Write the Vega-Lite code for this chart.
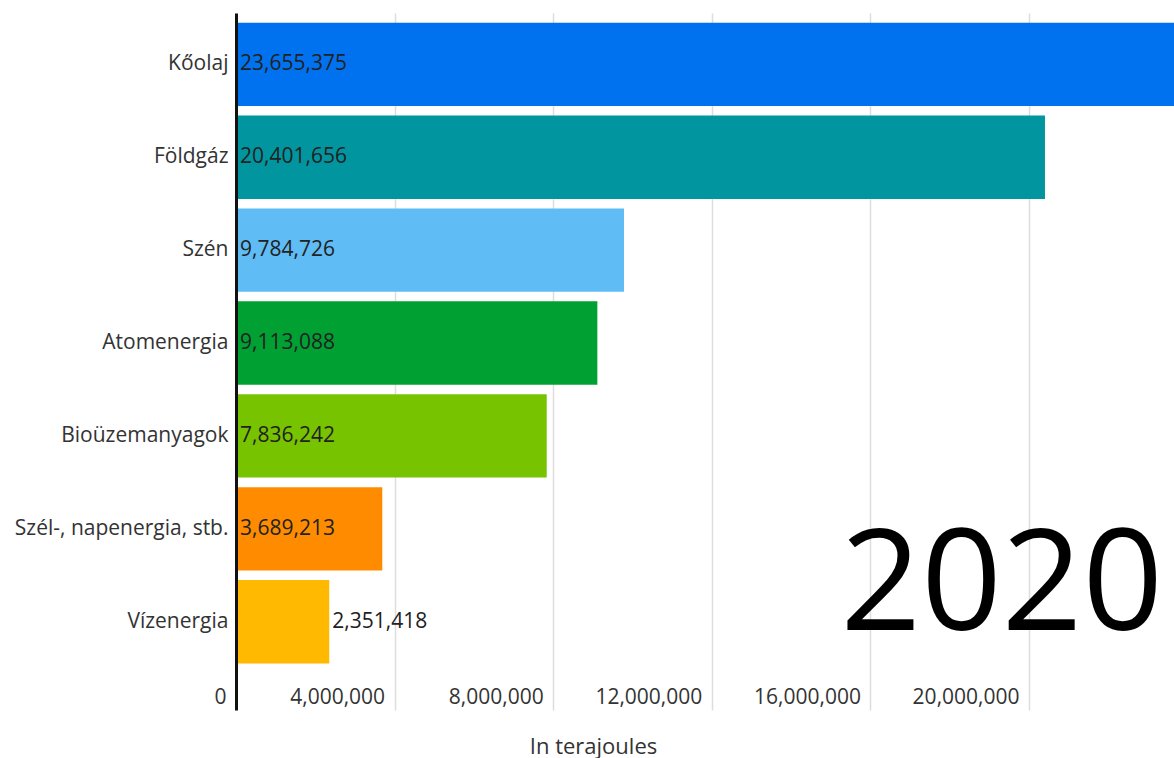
{
  "$schema": "https://vega.github.io/schema/vega-lite/v6.json",
  "autosize": {"type": "none"},
  "padding": {"left": 236, "top": 13, "right": 0, "bottom": 48},
  "width": 938,
  "height": 697,
  "background": "white",
  "config": {
    "font": "Open Sans",
    "numberFormat": ",",
    "view": {"stroke": null}
  },
  "data": {
    "values": [
      {"source": "Kőolaj", "value": 23655375},
      {"source": "Földgáz", "value": 20401656},
      {"source": "Szén", "value": 9784726},
      {"source": "Atomenergia", "value": 9113088},
      {"source": "Bioüzemanyagok", "value": 7836242},
      {"source": "Szél-, napenergia, stb.", "value": 3689213},
      {"source": "Vízenergia", "value": 2351418}
    ]
  },
  "encoding": {
    "y": {
      "field": "source",
      "type": "nominal",
      "scale": {
        "domain": ["Kőolaj", "Földgáz", "Szén", "Atomenergia", "Bioüzemanyagok", "Szél-, napenergia, stb.", "Vízenergia"],
        "paddingInner": 0.103,
        "paddingOuter": 0.303,
        "align": 0.172
      },
      "axis": {
        "title": null,
        "domain": true,
        "domainColor": "#111111",
        "domainWidth": 3,
        "ticks": false,
        "tickSize": 0,
        "labelPadding": 8,
        "labelFontSize": 21,
        "labelLimit": 400,
        "labelColor": "#333333",
        "grid": false,
        "zindex": 2
      }
    }
  },
  "layer": [
    {
      "mark": {"type": "bar"},
      "encoding": {
        "x": {
          "field": "value",
          "type": "quantitative",
          "scale": {"domain": [0, 23655375], "nice": false, "zero": true},
          "axis": {
            "title": "In terajoules",
            "titleFontSize": 22,
            "titleFontWeight": "normal",
            "titleColor": "#333333",
            "titleX": 357,
            "titleY": 43,
            "titleAlign": "center",
            "titleBaseline": "alphabetic",
            "values": [0, 4000000, 8000000, 12000000, 16000000, 20000000],
            "labelExpr": "format(datum.value, ',')",
            "domain": false,
            "ticks": false,
            "tickSize": 0,
            "grid": true,
            "gridColor": "#dddddd",
            "gridWidth": 1.5,
            "labelFontSize": 21,
            "labelColor": "#333333",
            "labelAlign": "right",
            "labelOffset": -10,
            "labelPadding": -7,
            "labelBaseline": "alphabetic",
            "labelFlush": false,
            "labelOverlap": false
          }
        },
        "color": {
          "field": "source",
          "type": "nominal",
          "legend": null,
          "scale": {
            "domain": ["Kőolaj", "Földgáz", "Szén", "Atomenergia", "Bioüzemanyagok", "Szél-, napenergia, stb.", "Vízenergia"],
            "range": ["#0072f0", "#00959f", "#5fbcf5", "#00a032", "#78c300", "#ff8c00", "#ffb900"]
          }
        }
      }
    },
    {
      "transform": [{"filter": "datum.value >= 3000000"}],
      "mark": {"type": "text", "align": "left", "baseline": "middle", "dx": 4, "fontSize": 21, "color": "#222222"},
      "encoding": {
        "x": {"datum": 0, "type": "quantitative"},
        "text": {"field": "value", "type": "quantitative", "format": ","}
      }
    },
    {
      "transform": [{"filter": "datum.value < 3000000"}],
      "mark": {"type": "text", "align": "left", "baseline": "middle", "dx": 3, "fontSize": 21, "color": "#222222"},
      "encoding": {
        "x": {"field": "value", "type": "quantitative"},
        "text": {"field": "value", "type": "quantitative", "format": ","}
      }
    },
    {
      "data": {"values": [{"year": "2020"}]},
      "mark": {"type": "text", "align": "right", "baseline": "alphabetic", "dx": -11, "dy": 8, "fontSize": 141, "color": "#000000"},
      "encoding": {
        "x": {"datum": 23655375, "type": "quantitative"},
        "y": {"datum": "Vízenergia", "type": "nominal"},
        "text": {"field": "year", "type": "nominal"}
      }
    }
  ]
}
